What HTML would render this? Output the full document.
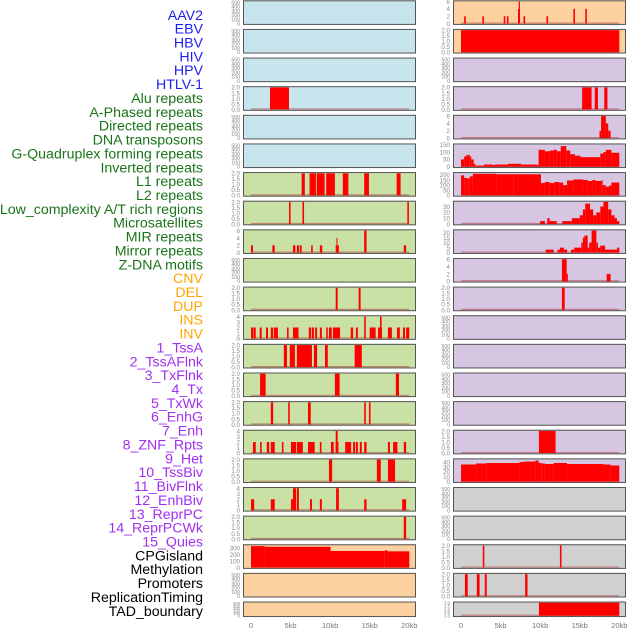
<!DOCTYPE html>
<html><head><meta charset="utf-8"><style>
html,body{margin:0;padding:0;background:#fff;}
svg{display:block;font-family:"Liberation Sans",sans-serif;}
</style></head><body>
<svg id="chart" width="630" height="630" viewBox="0 0 630 630"></svg>
<script>
const labels=["AAV2","EBV","HBV","HIV","HPV","HTLV-1","Alu repeats","A-Phased repeats","Directed repeats","DNA transposons","G-Quadruplex forming repeats","Inverted repeats","L1 repeats","L2 repeats","Low_complexity A/T rich regions","Microsatellites","MIR repeats","Mirror repeats","Z-DNA motifs","CNV","DEL","DUP","INS","INV","1_TssA","2_TssAFlnk","3_TxFlnk","4_Tx","5_TxWk","6_EnhG","7_Enh","8_ZNF_Rpts","9_Het","10_TssBiv","11_BivFlnk","12_EnhBiv","13_ReprPC","14_ReprPCWk","15_Quies","CPGisland","Methylation","Promoters","ReplicationTiming","TAD_boundary"];
const labelGroups=["v","v","v","v","v","v","r","r","r","r","r","r","r","r","r","r","r","r","r","c","c","c","c","c","s","s","s","s","s","s","s","s","s","s","s","s","s","s","s","o","o","o","o","o"];
const xTicks=[0,5,10,15,20];
const xTickLabels=["0","5kb","10kb","15kb","20kb"];
const leftBg=["b","b","b","b","b","b","g","g","g","g","g","g","g","g","g","g","g","g","g","p","p","p"];
const rightBg=["p","p","l","l","l","l","l","l","l","l","l","l","l","l","l","l","l","y","y","y","y","y"];
const E=[0,100,200,300,400,500];
const T2=[0,0.5,1.0,1.5,2.0];
const leftTicks=[E,E,E,T2,E,E,T2,T2,[0,2,4,6],E,T2,[0,1,2,3,4],T2,T2,T2,[0,1,2,3,4],T2,[0,1,2,3,4],T2,[0,100,200,300],E,E];
const leftMax=[520,520,520,2,520,520,2,2,6,520,2,4,2,2,2,4,2,4,2,340,520,520];
const rightTicks=[[0,2,4,6],T2,E,T2,[0,2,4,6],[0,50,100,150],[0,50,100,150,200],[0,10,20,30],[0,5,10,15,20],[0,2,4,6],T2,E,E,E,E,T2,[0,10,20,30,40],E,E,T2,T2,T2];
const rightMax=[6,2,520,2,6,150,215,38,22,6,2,520,520,520,520,2,45,520,520,2,2,2];
const left=[
[],[],[],
[[2.4,4.8,2]],
[],[],
[[6.4,6.8,2],[7.4,8.2,2],[8.3,9.3,2],[9.5,10.6,2],[11.6,12.3,2],[14.3,14.9,2],[18.4,18.9,2]],
[[4.8,5.0,2],[6.5,6.7,2],[19.75,19.95,2]],
[[0,0.25,2],[2.7,3.0,2],[5.3,5.6,2],[5.8,6.1,2],[6.2,6.4,2],[7.6,7.8,2],[8.7,9.0,2],[10.7,11.1,2],[10.8,10.9,4],[14.3,14.6,6],[19.3,19.6,2]],
[],
[[10.7,10.95,2],[13.6,13.85,2]],
[[0,0.25,2],[0.3,0.6,2],[1.1,1.35,2],[1.9,2.15,2],[2.5,2.8,2],[2.9,3.4,2],[4.55,4.75,2],[5.3,6.0,2],[7.3,7.6,2],[7.7,7.95,2],[8.1,8.35,2],[8.7,8.95,2],[9.5,9.7,2],[9.85,10.2,2],[10.35,11.25,2],[12.6,12.9,2],[13.25,13.5,2],[14.3,14.5,4],[15.0,15.75,2],[16.05,16.55,2],[16.3,16.5,4],[17.3,17.8,2],[18.45,18.8,2],[19.2,19.45,2],[19.6,20.0,2]],
[[4.15,4.55,2],[4.9,5.55,2],[5.8,7.7,2],[7.95,8.35,2],[9.35,9.7,2],[13.1,14.0,2]],
[[1.15,1.85,2],[10.6,11.2,2],[18.3,18.7,2]],
[[2.5,2.8,2],[4.7,4.9,2],[7.2,7.55,2],[14.3,14.5,2],[14.9,15.1,2]],
[[0.25,0.6,2],[1.15,1.35,2],[2.0,2.3,2],[2.5,3.0,2],[3.9,4.1,2],[5.05,5.7,2],[5.8,6.55,2],[7.2,8.05,2],[8.7,8.9,2],[10.1,10.45,2],[10.7,11.05,2],[10.7,10.95,4],[11.9,12.65,2],[12.9,13.15,2],[13.25,13.5,2],[13.75,14.0,2],[14.3,14.6,2],[17.3,17.55,2],[17.95,18.5,2],[19.3,19.6,2]],
[[9.85,10.25,2],[15.9,16.4,2],[17.3,18.2,2]],
[[0,0.4,2],[2.5,3.0,2],[5.05,5.3,2],[5.3,5.7,4],[5.8,6.05,4],[7.45,7.7,2],[8.7,8.95,2],[10.75,11.1,4],[14.3,14.6,2],[19.1,19.6,2]],
[[19.3,19.6,2]],
[[0,1.7,330],[1.7,10.05,320],[10.05,16.9,255],[16.9,17.25,265],[17.25,20,250]],
[],[]
];
const right=[
[[0.4,0.6,2],[2.7,2.9,2],[5.4,5.6,2],[5.8,6.0,2],[7.2,7.3,4],[7.3,7.45,6],[7.9,8.1,2],[10.8,11.0,2],[14.2,14.4,4],[15.7,15.9,4]],
[[0,20,2]],
[],
[[15.3,16.5,2],[16.9,17.3,2],[18.1,18.5,2]],
[[17.5,17.7,2],[17.7,18.3,6],[18.3,18.6,4],[18.6,18.9,2]],
[[0,0.4,50],[0.4,0.7,70],[0.7,1.1,80],[1.1,1.3,70],[1.3,1.6,50],[1.6,1.8,20],[1.8,2.9,8],[2.9,4.0,15],[4.0,4.3,12],[4.3,5.9,15],[5.9,7.6,20],[7.6,9.5,15],[9.5,9.8,13],[9.8,10.6,115],[10.6,11.2,105],[11.2,11.7,110],[11.7,12.1,115],[12.1,12.6,105],[12.6,13.3,140],[13.3,13.8,110],[13.8,14.4,85],[14.4,15.1,75],[15.1,17.6,65],[17.6,18.0,90],[18.0,18.3,100],[18.3,19.0,115],[19.0,20,95]],
[[0,0.4,195],[0.4,0.8,170],[0.8,1.1,165],[1.1,1.5,185],[1.5,4.5,210],[4.5,6.6,205],[6.6,10.1,205],[10.1,10.6,120],[10.6,11.2,130],[11.2,11.8,120],[11.8,12.4,130],[12.4,12.9,125],[12.9,13.4,100],[13.4,14.2,145],[14.2,15.4,155],[15.4,16.0,150],[16.0,16.6,140],[16.6,17.0,150],[17.0,17.7,140],[17.7,17.9,145],[17.9,18.3,100],[18.3,18.7,85],[18.7,19.0,95],[19.0,20,125]],
[[10.0,10.6,5],[10.9,11.2,10],[11.2,12.1,5],[12.8,14.0,5],[14.0,15.0,10],[15.0,15.4,15],[15.4,15.7,25],[15.7,16.3,35],[16.3,16.7,25],[16.7,17.1,15],[17.1,17.6,20],[17.6,18.0,30],[18.0,18.6,38],[18.6,19.0,25],[19.0,19.4,15],[19.4,19.7,10],[19.7,20,5]],
[[10.7,11.7,3],[12.2,12.5,3],[12.5,13.0,5],[13.0,13.4,3],[13.9,14.3,3],[14.3,15.2,5],[15.2,15.4,10],[15.4,15.6,15],[15.6,16.0,17],[16.0,16.2,5],[16.2,16.5,10],[16.5,17.1,22],[17.1,17.3,10],[17.3,17.6,5],[17.6,18.2,7],[18.2,19.7,3],[19.7,20,5]],
[[12.75,13.35,6],[13.35,13.5,2],[18.4,18.9,2]],
[[12.75,13.1,2]],
[],[],[],[],
[[9.85,11.95,2]],
[[0,1.9,35],[1.9,3.2,37],[3.2,7.4,38],[7.4,7.9,40],[7.9,9.4,41],[9.4,9.8,43],[9.8,10.2,38],[10.2,10.6,37],[10.6,11.7,36],[11.7,13.4,38],[13.4,18.0,36],[18.0,18.9,35],[18.9,20,33]],
[],[],
[[2.75,2.95,2],[12.5,12.7,2]],
[[0.5,0.85,2],[2.0,2.35,2],[3.0,3.25,2],[8.1,8.4,2]],
[[9.85,20,2]]
];

const NS="http://www.w3.org/2000/svg";
const svg=document.getElementById("chart");
function mk(tag,attrs,parent){const e=document.createElementNS(NS,tag);for(const k in attrs)e.setAttribute(k,attrs[k]);(parent||svg).appendChild(e);return e;}
const labelColors={v:"#1f1ff0",r:"#1a741a",c:"#ffa500",s:"#a030f0",o:"#000000"};
const bgColors={b:"#c8e4ec",g:"#c9e1a4",p:"#fdd0a0",l:"#d6c6e2",y:"#d0d0d0"};

labels.forEach((t,i)=>{
  const e=mk("text",{x:203,y:19.8+13.86*i,"text-anchor":"end","font-size":"14.2",fill:labelColors[labelGroups[i]]});
  e.textContent=t;
  
  
});

const cols=[{x0:243,x1:416,d0:251,d1:409.3,tickX:240,bg:leftBg,data:left,ticks:leftTicks,max:leftMax,name:'left'},
            {x0:453,x1:626,d0:461,d1:619.3,tickX:450,bg:rightBg,data:right,ticks:rightTicks,max:rightMax,name:'right'}];

cols.forEach(c=>{
  const xs=kb=>c.d0+(c.d1-c.d0)*kb/20;
  for(let r=0;r<22;r++){
    const top=0.3+28.63*r;
    const h=(r===21)?15.5:24.6;
    const g=mk("g",{});
    
    
    mk("rect",{x:c.x0,y:top,width:c.x1-c.x0,height:h,fill:bgColors[c.bg[r]],stroke:"none"},g);
    const yb=top+h-1.3, yt=top+1.2;
    const ys=v=>yb-(yb-yt)*v/c.max[r];
    const segs=c.data[r];
    if(segs.length){
      const bl=mk("line",{x1:xs(0),x2:xs(20),y1:yb-0.5,y2:yb-0.5,stroke:"#b03030","stroke-opacity":"0.5","stroke-width":"1.2"},g);
      
      
    }
    segs.forEach((s,k)=>{
      const x=xs(s[0]),w=Math.max(1,xs(s[1])-xs(s[0]));
      const y=ys(s[2]);
      const b=mk("rect",{x:x,y:y,width:w,height:yb-y,fill:"#ff0000"},g);
      
      
    });
    mk("rect",{x:c.x0+0.5,y:top+0.5,width:c.x1-c.x0-1,height:h-1,fill:"none",stroke:"#555","stroke-width":"1"},g);
    const tk=c.ticks[r];
    const fs=(r===21)?4.2:((tk.length>5)?5.2:6.2);
    tk.forEach(v=>{
      const lbl=mk("text",{x:c.tickX,y:ys(v)+fs*0.38,"text-anchor":"end","font-size":fs,fill:"#888"},g);
      lbl.textContent=(tk===T2)?v.toFixed(1):String(v);
      
      
    });
  }
  xTicks.forEach((v,i)=>{
    const t=mk("text",{x:xs(v),y:628,"text-anchor":"middle","font-size":"7.5",fill:"#777"});
    t.textContent=xTickLabels[i];
    
    
  });
});
</script>
</body></html>
